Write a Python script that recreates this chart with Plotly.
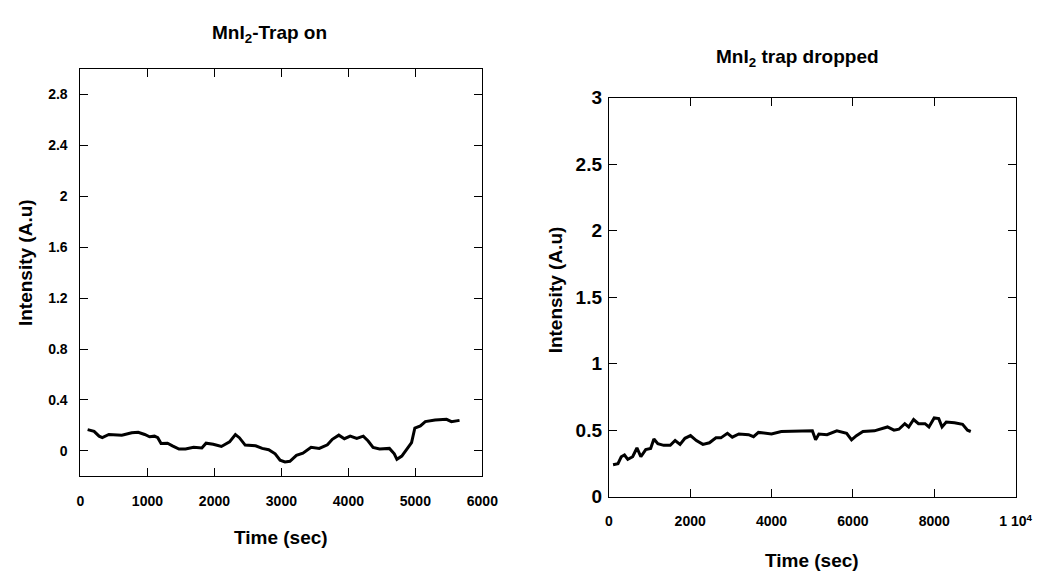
import plotly.graph_objects as go

# ---- Data: left panel (MnI2-Trap on) ----
t_on = [107, 204, 278, 326, 424, 521, 618, 765, 862, 959, 1032, 1105, 1154, 1203, 1300,
        1373, 1471, 1568, 1690, 1812, 1875, 1982, 2104, 2226, 2313, 2372, 2459, 2615, 2713,
        2810, 2907, 2980, 3053, 3127, 3224, 3321, 3443, 3565, 3687, 3760, 3857, 3940, 4027,
        4125, 4222, 4295, 4368, 4466, 4612, 4685, 4724, 4797, 4880, 4943, 4992, 5075, 5148,
        5294, 5465, 5538, 5659]
i_on = [0.167, 0.154, 0.116, 0.104, 0.129, 0.129, 0.124, 0.142, 0.147, 0.129, 0.111, 0.116,
        0.104, 0.058, 0.061, 0.040, 0.015, 0.015, 0.028, 0.023, 0.061, 0.053, 0.035, 0.071,
        0.129, 0.104, 0.046, 0.040, 0.020, 0.010, -0.023, -0.073, -0.086, -0.081, -0.035,
        -0.018, 0.028, 0.020, 0.048, 0.091, 0.124, 0.096, 0.116, 0.099, 0.116, 0.078, 0.028,
        0.015, 0.020, -0.023, -0.066, -0.040, 0.020, 0.066, 0.180, 0.197, 0.230, 0.243,
        0.248, 0.230, 0.240]

# ---- Data: right panel (MnI2 trap dropped) ----
t_drop = [104, 225, 305, 385, 466, 586, 691, 787, 907, 1028, 1108, 1205, 1349, 1510, 1630,
          1751, 1871, 2008, 2152, 2313, 2473, 2634, 2754, 2915, 3035, 3196, 3437, 3557, 3678,
          3999, 4240, 4641, 5003, 5083, 5163, 5364, 5605, 5846, 5966, 6087, 6247, 6528, 6649,
          6850, 7010, 7131, 7275, 7371, 7492, 7612, 7773, 7869, 7998, 8110, 8191, 8295, 8496,
          8696, 8817, 8897]
i_drop = [0.240, 0.248, 0.300, 0.313, 0.280, 0.300, 0.366, 0.300, 0.354, 0.362, 0.434, 0.398,
          0.386, 0.386, 0.422, 0.393, 0.439, 0.459, 0.422, 0.393, 0.405, 0.442, 0.442, 0.476,
          0.447, 0.471, 0.466, 0.451, 0.483, 0.471, 0.490, 0.490, 0.495, 0.427, 0.471, 0.466,
          0.495, 0.476, 0.427, 0.459, 0.490, 0.495, 0.507, 0.524, 0.500, 0.507, 0.549, 0.524,
          0.580, 0.549, 0.549, 0.524, 0.592, 0.587, 0.524, 0.561, 0.556, 0.544, 0.500, 0.490]

# ---- Tick definitions ----
x1_ticks = [0, 1000, 2000, 3000, 4000, 5000, 6000]
x1_text = ["0", "1000", "2000", "3000", "4000", "5000", "6000"]
y1_ticks = [0, 0.4, 0.8, 1.2, 1.6, 2.0, 2.4, 2.8]
y1_text = ["0", "0.4", "0.8", "1.2", "1.6", "2", "2.4", "2.8"]
x2_ticks = [0, 2000, 4000, 6000, 8000, 10000]
x2_text = ["0", "2000", "4000", "6000", "8000", "1 10<sup>4</sup>"]
y2_ticks = [0, 0.5, 1.0, 1.5, 2.0, 2.5, 3.0]
y2_text = ["0", "0.5", "1", "1.5", "2", "2.5", "3"]

W, H = 1064, 578
FONT = "Liberation Sans, Arial, Helvetica, sans-serif"


def px_x(p):
    return p / W


def px_y(p):
    return 1 - p / H


fig = go.Figure()
fig.add_trace(go.Scatter(x=t_on, y=i_on, mode="lines", xaxis="x", yaxis="y",
                         line=dict(color="black", width=3), showlegend=False))
fig.add_trace(go.Scatter(x=t_drop, y=i_drop, mode="lines", xaxis="x2", yaxis="y2",
                         line=dict(color="black", width=3), showlegend=False))

axis_common = dict(showline=True, linecolor="black", linewidth=1, mirror="allticks",
                   ticks="inside", ticklen=8, tickwidth=1, tickcolor="black",
                   showgrid=False, zeroline=False, fixedrange=True)

tick_small = dict(family=FONT, size=14, color="black", weight="bold")
tick_big = dict(family=FONT, size=19, color="black", weight="bold")

fig.update_layout(
    width=W, height=H,
    margin=dict(l=0, r=0, t=0, b=0),
    paper_bgcolor="white", plot_bgcolor="white",
    xaxis=dict(domain=[px_x(78), px_x(488)], range=[0, 6000], anchor="y",
               tickvals=x1_ticks, ticktext=x1_text, tickfont=tick_small,
               ticklabelstandoff=12, **axis_common),
    yaxis=dict(domain=[px_y(484), px_y(61)], range=[-0.2, 3.0], anchor="x",
               tickvals=y1_ticks, ticktext=y1_text, tickfont=tick_small,
               ticklabelstandoff=9, **axis_common),
    xaxis2=dict(domain=[px_x(617), px_x(1032)], range=[0, 10000], anchor="y2",
                tickvals=x2_ticks, ticktext=x2_text, tickfont=tick_small,
                ticklabelstandoff=12, **axis_common),
    yaxis2=dict(domain=[px_y(505), px_y(91)], range=[0, 3.0], anchor="x2",
                tickvals=y2_ticks, ticktext=y2_text, tickfont=tick_big,
                ticklabelstandoff=2, **axis_common),
)

title_font = dict(family=FONT, size=19, color="black", weight="bold")
ann = [
    dict(text="MnI<sub>2</sub>-Trap on", x=px_x(271), y=px_y(25)),
    dict(text="MnI<sub>2</sub> trap dropped", x=px_x(809), y=px_y(50)),
    dict(text="Time (sec)", x=px_x(283), y=px_y(547)),
    dict(text="Time (sec)", x=px_x(824), y=px_y(571)),
    dict(text="Intensity (A.u)", x=px_x(22), y=px_y(262), textangle=-90),
    dict(text="Intensity (A.u)", x=px_x(563), y=px_y(290), textangle=-90),
]
for a in ann:
    fig.add_annotation(xref="paper", yref="paper", showarrow=False,
                       xanchor="center", yanchor="middle", font=title_font, **a)

fig.write_html("out.html")
